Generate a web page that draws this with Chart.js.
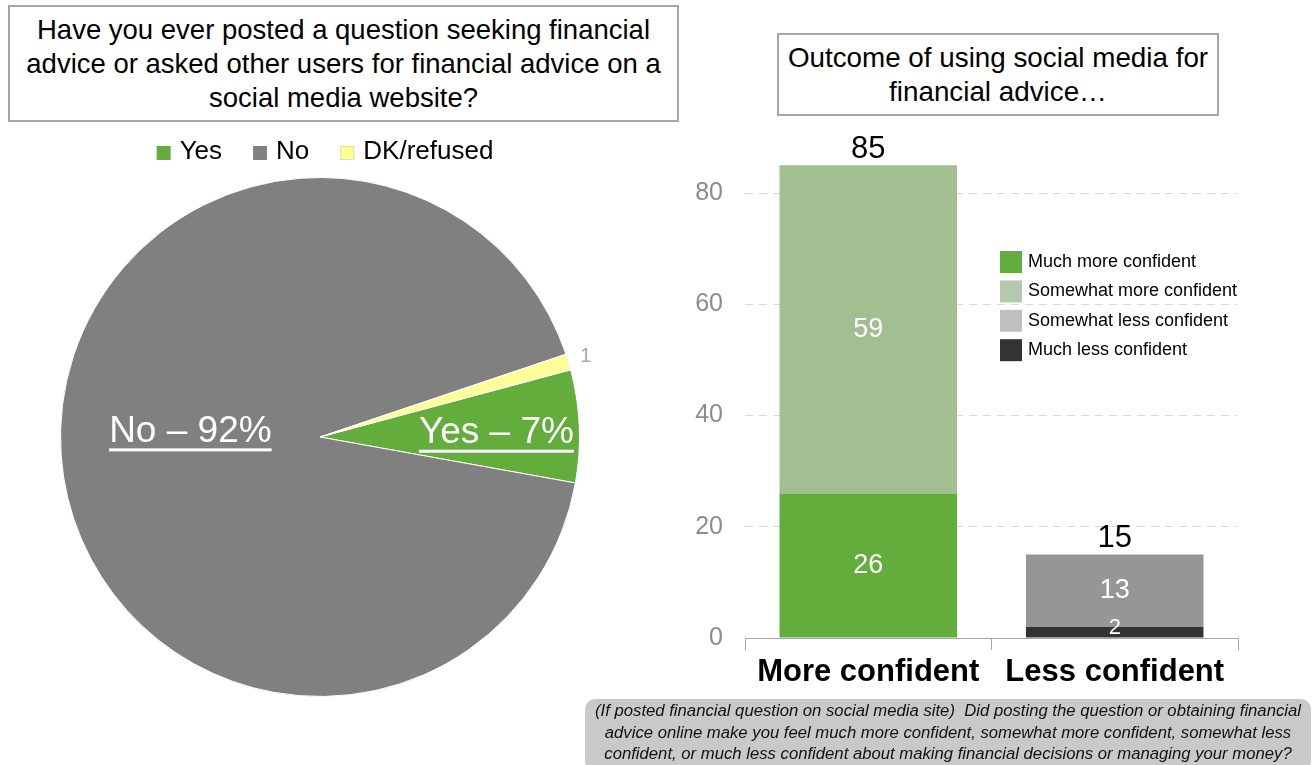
<!DOCTYPE html>
<html>
<head>
<meta charset="utf-8">
<title>Social media and financial advice</title>
<script src="https://cdn.jsdelivr.net/npm/chart.js@4.4.0/dist/chart.umd.min.js"></script>
<style>
  body { margin: 0; background: #fff; font-family: "Liberation Sans", Arial, sans-serif; }
  .box { position: absolute; box-sizing: border-box; border: 2px solid #a6a6a6; background: #fff; text-align: center; color: #000; }
  #pieTitle { left: 8px; top: 5px; width: 671px; height: 117px; font-size: 27.5px; line-height: 34px; padding-top: 6px; }
  #barTitle { left: 777px; top: 33px; width: 442px; height: 83px; font-size: 27.8px; line-height: 34px; padding-top: 6px; }
  #note { position: absolute; left: 585px; top: 699px; width: 726px; height: 72px; border-radius: 10px; background: #c9c9c9;
          text-align: center; font-style: italic; font-size: 16.7px; line-height: 21.5px; padding-top: 1px; box-sizing: border-box; color: #111; }
  #pie { position: absolute; left: 0; top: 130px; }
  #bar { position: absolute; left: 680px; top: 100px; }
</style>
</head>
<body>
<canvas id="pie" width="640" height="567"></canvas>
<canvas id="bar" width="634" height="600"></canvas>
<div class="box" id="pieTitle">Have you ever posted a question seeking financial<br>advice or asked other users for financial advice on a<br>social media website?</div>
<div class="box" id="barTitle">Outcome of using social media for<br>financial advice…</div>
<div id="note">(If posted financial question on social media site)&nbsp; Did posting the question or obtaining financial<br>advice online make you feel much more confident, somewhat more confident, somewhat less<br>confident, or much less confident about making financial decisions or managing your money?</div>

<script>
// pie: have you asked for financial advice on social media
var answers = ['Yes', 'No', 'DK/refused'];
var answerShare = [7, 92, 1];

// bars: outcome, stacked bottom to top
var outcomes = ['More confident', 'Less confident'];
var muchMore = [26, 0];
var somewhatMore = [59, 0];
var muchLess = [0, 2];
var somewhatLess = [0, 13];
var yTicks = [0, 20, 40, 60, 80];

var pieColors = ['#62ad3b', '#808080', '#ffff99'];
var FONT = '"Liberation Sans", Arial, sans-serif';

// slice labels: radius factor, angle nudge (deg), inside or outside
var labelRadius = [0.68, 0.5, 1.07];
var labelNudge = [1, 6.7, 0];
var labelInside = [true, true, false];

//Pie legend + slice labels
var pieExtras = {
  id: 'pieExtras',
  afterDraw: function(chart) {
    var ctx = chart.ctx;
    var ds = chart.data.datasets[0];
    ctx.save();
    ctx.font = '26px ' + FONT;
    ctx.textBaseline = 'middle';
    ctx.textAlign = 'left';
    var box = 14, gap = 9, space = 31;
    var total = 0;
    chart.data.labels.forEach(function(l, i) {
      total += box + gap + ctx.measureText(l).width + (i ? space : 0);
    });
    var x = 325 - total / 2, y = 22;
    chart.data.labels.forEach(function(l, i) {
      ctx.fillStyle = ds.backgroundColor[i];
      ctx.fillRect(x, y - box / 2 + 1, box, box);
      if (i == 2) {
        ctx.strokeStyle = '#e2e28a';
        ctx.lineWidth = 1;
        ctx.strokeRect(x + 0.5, y - box / 2 + 1.5, box - 1, box - 1);
      }
      ctx.fillStyle = '#000';
      ctx.fillText(l, x + box + gap, y);
      x += box + gap + ctx.measureText(l).width + space;
    });

    var meta = chart.getDatasetMeta(0);
    meta.data.forEach(function(arc, i) {
      var p = arc.getProps(['x', 'y', 'startAngle', 'endAngle', 'outerRadius'], true);
      var mid = (p.startAngle + p.endAngle) / 2 + labelNudge[i] * Math.PI / 180;
      var r = p.outerRadius * labelRadius[i];
      var lx = p.x + Math.cos(mid) * r, ly = p.y + Math.sin(mid) * r;
      ctx.textAlign = 'center';
      if (labelInside[i]) {
        var txt = chart.data.labels[i] + ' \u2013 ' + ds.data[i] + '%';
        ctx.font = '37px ' + FONT;
        ctx.fillStyle = '#fff';
        ctx.fillText(txt, lx, ly);
        var w = ctx.measureText(txt).width;
        ctx.fillRect(lx - w / 2, ly + 17, w, 3);
      } else {
        ctx.font = '20px ' + FONT;
        ctx.fillStyle = '#a6a6a6';
        ctx.fillText(String(ds.data[i]), lx, ly);
      }
    });
    ctx.restore();
  }
};

new Chart(document.getElementById('pie').getContext('2d'), {
  type: 'pie',
  data: {
    labels: answers,
    datasets: [{
      data: answerShare,
      backgroundColor: pieColors,
      borderColor: '#ffffff',
      borderWidth: 1
    }]
  },
  options: {
    responsive: false,
    animation: false,
    rotation: 75,
    layout: { padding: { top: 47 } },
    plugins: { legend: { display: false }, tooltip: { enabled: false } }
  },
  plugins: [pieExtras]
});

var barColors = {
  'Much more confident': '#62ad3b',
  'Somewhat more confident': '#a2bf91',
  'Somewhat less confident': '#969696',
  'Much less confident': '#333333'
};
var keyColors = {
  'Much more confident': '#62ad3d',
  'Somewhat more confident': '#b3c9ad',
  'Somewhat less confident': '#c0c0c0',
  'Much less confident': '#333333'
};
var keyOrder = ['Much more confident', 'Somewhat more confident', 'Somewhat less confident', 'Much less confident'];

//Bar labels, totals and key
var barExtras = {
  id: 'barExtras',
  afterDatasetsDraw: function(chart) {
    var ctx = chart.ctx;
    ctx.save();
    ctx.textAlign = 'center';
    ctx.textBaseline = 'middle';
    var tops = [];
    chart.data.datasets.forEach(function(ds, d) {
      chart.getDatasetMeta(d).data.forEach(function(bar, i) {
        var v = ds.data[i];
        if (!v) return;
        var p = bar.getProps(['x', 'y', 'base'], true);
        var h = p.base - p.y;
        var cy = Math.min((p.y + p.base) / 2, p.base - 10);
        ctx.font = (h > 30 ? 27 : 22) + 'px ' + FONT;
        ctx.fillStyle = '#fff';
        ctx.fillText(String(v), p.x, cy);
        if (tops[i] === undefined || p.y < tops[i].y) tops[i] = { x: p.x, y: p.y };
      });
    });
    // totals above each stack
    ctx.font = '31px ' + FONT;
    ctx.fillStyle = '#000';
    tops.forEach(function(t, i) {
      var sum = 0;
      chart.data.datasets.forEach(function(ds) { sum += ds.data[i]; });
      ctx.fillText(String(sum), t.x, t.y - 16);
    });
    // key
    ctx.textAlign = 'left';
    ctx.font = '18px ' + FONT;
    keyOrder.forEach(function(name, k) {
      var y = 162 + k * 29.4;
      ctx.fillStyle = keyColors[name];
      ctx.fillRect(320, y - 11, 22, 22);
      ctx.fillStyle = '#000';
      ctx.fillText(name, 348, y);
    });
    ctx.restore();
  }
};

function bars(name, values) {
  return { label: name, data: values, backgroundColor: barColors[name], borderWidth: 0 };
}

new Chart(document.getElementById('bar').getContext('2d'), {
  type: 'bar',
  data: {
    labels: outcomes,
    datasets: [
      bars('Much more confident', muchMore),
      bars('Somewhat more confident', somewhatMore),
      bars('Much less confident', muchLess),
      bars('Somewhat less confident', somewhatLess)
    ]
  },
  options: {
    responsive: false,
    animation: false,
    layout: { padding: { top: 48.5, right: 76, bottom: 0, left: 0 } },
    datasets: { bar: { categoryPercentage: 1, barPercentage: 0.72 } },
    scales: {
      x: {
        stacked: true,
        grid: { offset: true, drawOnChartArea: false, tickLength: 12, color: '#a6a6a6' },
        border: { color: '#a6a6a6', width: 1 },
        ticks: { color: '#000', padding: 4, font: { family: FONT, size: 31, weight: 'bold' } },
        afterFit: function(s) { s.height = 62; }
      },
      y: {
        stacked: true,
        min: 0,
        max: 88,
        afterBuildTicks: function(s) { s.ticks = yTicks.map(function(v) { return { value: v }; }); },
        afterFit: function(s) { s.width = 65; },
        grid: { color: '#d9d9d9', drawTicks: false },
        border: { display: false, dash: [8, 6] },
        ticks: { color: '#8c8c8c', padding: 22, font: { family: FONT, size: 25 } }
      }
    },
    plugins: { legend: { display: false }, tooltip: { enabled: false } }
  },
  plugins: [barExtras]
});
</script>
</body>
</html>
